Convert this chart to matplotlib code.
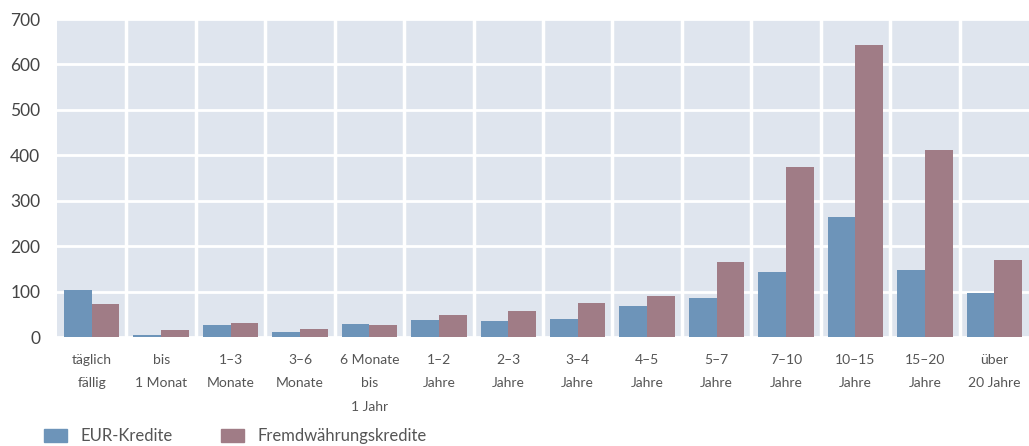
import matplotlib
matplotlib.use("Agg")
import matplotlib.pyplot as plt
import numpy as np
from matplotlib.patches import Patch

plt.rcParams['font.family'] = ['Lato', 'DejaVu Sans']

kategorien = ["täglich\nfällig", "bis\n1 Monat", "1–3\nMonate", "3–6\nMonate",
              "6 Monate\nbis\n1 Jahr", "1–2\nJahre", "2–3\nJahre", "3–4\nJahre",
              "4–5\nJahre", "5–7\nJahre", "7–10\nJahre", "10–15\nJahre",
              "15–20\nJahre", "über\n20 Jahre"]
eur_kredite = [103, 4, 26, 11, 29, 37, 35, 40, 68, 86, 143, 264, 147, 97]
fw_kredite = [73, 15, 31, 18, 26, 48, 57, 75, 90, 165, 374, 643, 412, 169]
y_ticks = [0, 100, 200, 300, 400, 500, 600, 700]

farbe_eur = '#6d94b9'
farbe_fw = '#a07c86'
textfarbe = '#555555'

fig = plt.figure(figsize=(10.29, 4.46), dpi=100)
ax = fig.add_axes([57/1029, 1 - 337/446, 1 - 57/1029, (337 - 19)/446])
ax.set_facecolor('#dfe5ee')

x = np.arange(len(kategorien))
b = 0.4
ax.bar(x - b/2, eur_kredite, b, color=farbe_eur, zorder=2)
ax.bar(x + b/2, fw_kredite, b, color=farbe_fw, zorder=2)

ax.set_xlim(-0.5, len(kategorien) - 0.5)
ax.set_ylim(0, 700)
ax.set_yticks(y_ticks)
ax.yaxis.grid(True, color='white', linewidth=2, zorder=1)
ax.set_axisbelow(True)
for s in x[:-1]:
    ax.axvline(s + 0.5, color='white', linewidth=2.5, zorder=3)

ax.set_xticks(x)
ax.set_xticklabels(kategorien, fontsize=10, color=textfarbe, linespacing=2.15,
                   va='top')
ax.tick_params(axis='x', length=0, pad=12)
ax.tick_params(axis='y', length=0, pad=12, labelsize=12.5, labelcolor='#444444')
for sp in ax.spines.values():
    sp.set_visible(False)

handles = [Patch(color=farbe_eur, label='EUR-Kredite'),
           Patch(color=farbe_fw, label='Fremdwährungskredite')]
fig.legend(handles=handles, loc='lower left', bbox_to_anchor=(0.028, -0.03),
           ncol=2, frameon=False, fontsize=12, handlelength=1.4, handleheight=0.75,
           handletextpad=0.8, columnspacing=2.9, labelcolor=textfarbe)

fig.savefig('out.png', dpi=100)
